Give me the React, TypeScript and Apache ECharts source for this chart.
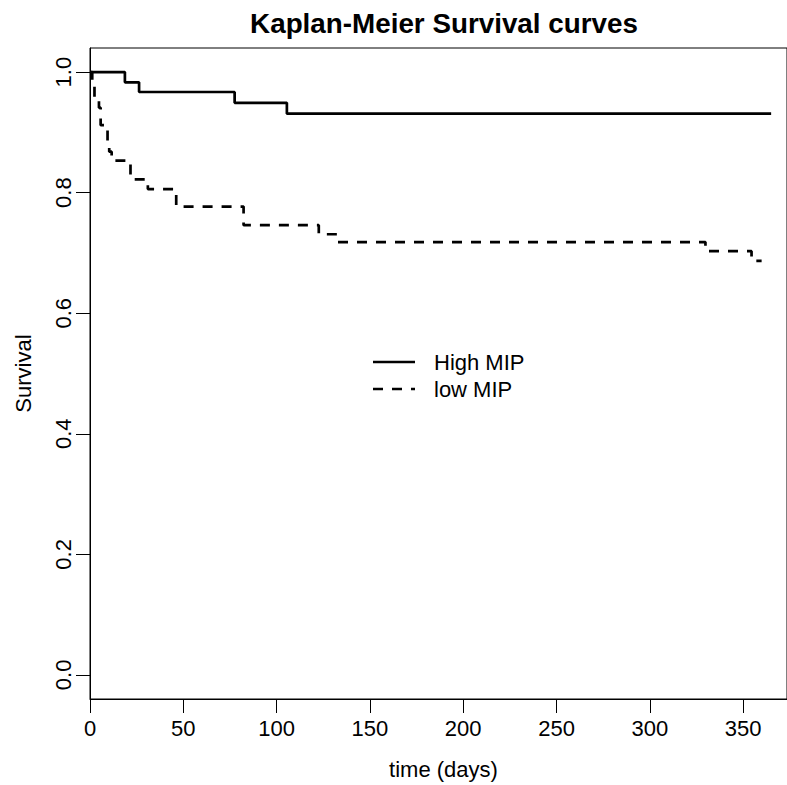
import React, { useEffect, useRef } from "react";
import * as echarts from "echarts";

const chartTitle = "Kaplan-Meier Survival curves";
const xName = "time (days)";
const yName = "Survival";
const xTicks = [0, 50, 100, 150, 200, 250, 300, 350];
const yTicks = [0, 0.2, 0.4, 0.6, 0.8, 1.0];
const seriesNames = ["High MIP", "low MIP"];

const highTimes = [0, 18.7, 26.3, 77.5, 105.5, 365];
const highSurv = [1, 0.983, 0.967, 0.949, 0.931, 0.931];

const lowTimes = [0, 1.2, 2.4, 4.8, 5.7, 9.4, 10.3, 11.6, 21.7, 31.0, 46.2, 82.3, 122.6, 132.8, 329.8, 354.5, 359.9];
const lowSurv = [1, 0.985, 0.956, 0.941, 0.912, 0.882, 0.868, 0.853, 0.822, 0.806, 0.777, 0.746, 0.731, 0.718, 0.703, 0.687, 0.687];

const FONT = "'Liberation Sans', Arial, sans-serif";
const DASH = [10, 9];

export default function App() {
  const ref = useRef<HTMLDivElement>(null);
  useEffect(() => {
    if (!ref.current) return;
    const chart = echarts.init(ref.current, null, { renderer: "svg" });
    const highData = highTimes.map((t, i) => [t, highSurv[i]]);
    const lowData = lowTimes.map((t, i) => [t, lowSurv[i]]);
    chart.setOption({
      animation: false,
      backgroundColor: "#fff",
      title: {
        text: chartTitle,
        left: 444,
        top: 9,
        padding: 0,
        textAlign: "center",
        textStyle: { fontSize: 27.8, fontWeight: "bold", color: "#000", fontFamily: FONT },
      },
      grid: {
        left: 90,
        top: 48,
        width: 698,
        height: 655,
        show: true,
        borderColor: "#000",
        borderWidth: 1,
        backgroundColor: "transparent",
      },
      xAxis: {
        type: "value",
        min: 0,
        max: 373.5,
        name: xName,
        nameLocation: "middle",
        nameGap: 59,
        nameTextStyle: { fontSize: 22, color: "#000", fontFamily: FONT, padding: [0, 0, 0, 10] },
        axisLine: { show: true, onZero: false, lineStyle: { color: "#000", width: 1 } },
        axisTick: { show: true, length: 14, customValues: xTicks, lineStyle: { color: "#000", width: 1 } },
        axisLabel: { customValues: xTicks, fontSize: 22, color: "#000", fontFamily: FONT, margin: 18 },
        splitLine: { show: false },
      },
      yAxis: {
        type: "value",
        min: -0.04,
        max: 1.04,
        name: yName,
        nameLocation: "middle",
        nameGap: 56,
        nameRotate: 90,
        nameTextStyle: { fontSize: 22, color: "#000", fontFamily: FONT },
        axisLine: { show: true, onZero: false, lineStyle: { color: "#000", width: 1 } },
        axisTick: { show: true, length: 14, customValues: yTicks, lineStyle: { color: "#000", width: 1 } },
        axisLabel: {
          customValues: yTicks,
          rotate: 90,
          fontSize: 22,
          color: "#000",
          fontFamily: FONT,
          margin: 16,
          formatter: (v: number) => v.toFixed(1),
        },
        splitLine: { show: false },
      },
      series: [
        {
          name: seriesNames[0],
          type: "line",
          step: "end",
          symbol: "none",
          data: highData,
          lineStyle: { color: "#000", width: 2.7, type: "solid" },
        },
        {
          name: seriesNames[1],
          type: "line",
          step: "end",
          symbol: "none",
          data: lowData,
          lineStyle: { color: "#000", width: 2.7, type: DASH },
        },
      ],
      graphic: [
        {
          type: "line",
          shape: { x1: 373, y1: 362, x2: 415, y2: 362 },
          style: { stroke: "#000", lineWidth: 2.7 },
        },
        {
          type: "text",
          x: 434,
          y: 362,
          style: { text: seriesNames[0], fontSize: 22, fontFamily: FONT, fill: "#000", verticalAlign: "middle", align: "left" },
        },
        {
          type: "line",
          shape: { x1: 373, y1: 389, x2: 415, y2: 389 },
          style: { stroke: "#000", lineWidth: 2.7, lineDash: DASH },
        },
        {
          type: "text",
          x: 434,
          y: 389,
          style: { text: seriesNames[1], fontSize: 22, fontFamily: FONT, fill: "#000", verticalAlign: "middle", align: "left" },
        },
      ],
    });
    return () => chart.dispose();
  }, []);
  return (
    <div
      ref={ref}
      style={{ position: "fixed", left: 0, top: 0, width: 787, height: 785, background: "#fff" }}
    />
  );
}
